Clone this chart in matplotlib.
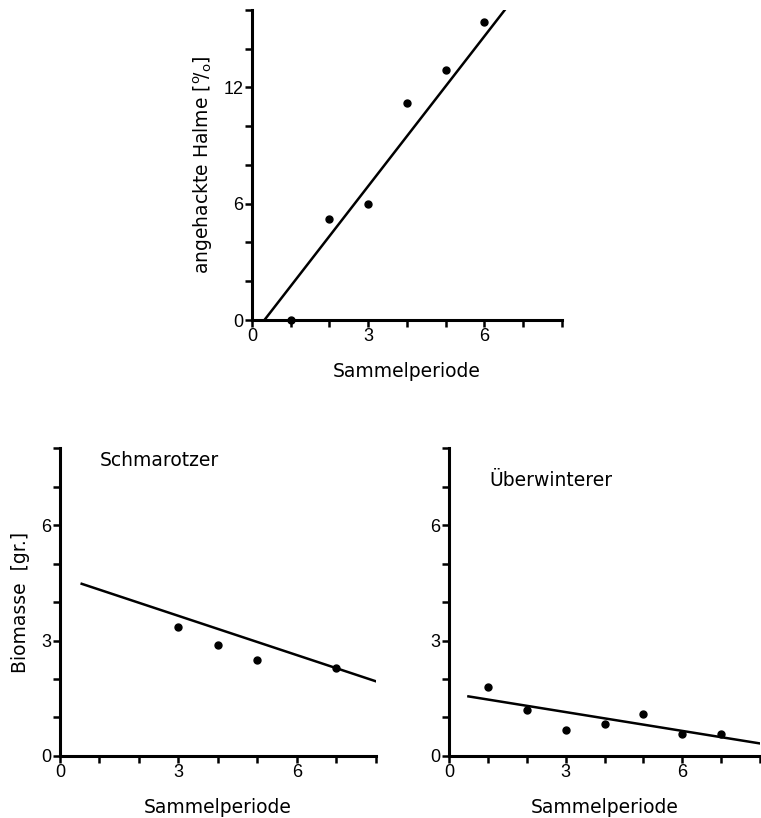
import matplotlib
matplotlib.use("Agg")
import matplotlib.pyplot as plt
import numpy as np

plt.rcParams['font.family'] = ['Liberation Sans', 'DejaVu Sans']
plt.rcParams['mathtext.fontset'] = 'custom'
plt.rcParams['mathtext.rm'] = 'DejaVu Sans'
plt.rcParams['mathtext.it'] = 'DejaVu Sans'

# Top panel: angehackte Halme [%]
top_x = [1, 2, 3, 4, 5, 6]
top_y = [0.0, 5.2, 6.0, 11.2, 12.9, 15.4]
top_fit = (2.58, -0.83)          # slope, intercept
top_fit_range = (0.32, 6.6)

# Bottom left: Schmarotzer
schm_x = [3, 4, 5, 7]
schm_y = [3.35, 2.88, 2.49, 2.29]
schm_fit = (-0.34, 4.66)
schm_fit_range = (0.55, 8.0)

# Bottom right: Überwinterer
ueb_x = [1, 2, 3, 4, 5, 6, 7]
ueb_y = [1.78, 1.19, 0.67, 0.84, 1.08, 0.57, 0.57]
ueb_fit = (-0.163, 1.63)
ueb_fit_range = (0.5, 8.0)

xticks_major = [0, 3, 6]

LBL = dict(family='DejaVu Sans', fontsize=13.5)

fig = plt.figure(figsize=(7.61, 8.18), dpi=100)

def style(ax, ymax, yminor_step, yticks_major, xlabel, ylabel=None, ylpad=6):
    ax.set_xlim(0, 8)
    ax.set_ylim(0, ymax)
    for s in ['top', 'right']:
        ax.spines[s].set_visible(False)
    for s in ['left', 'bottom']:
        ax.spines[s].set_linewidth(2.2)
    ax.set_xticks(np.arange(0, 9, 1), minor=True)
    ax.set_xticks(xticks_major)
    ax.set_yticks(np.arange(0, ymax + 0.01, yminor_step), minor=True)
    ax.set_yticks(yticks_major)
    ax.tick_params(which='both', direction='out', length=5, width=1.8, labelsize=13, pad=1)
    ax.set_xlabel(xlabel, labelpad=12, **LBL)
    if ylabel:
        ax.set_ylabel(ylabel, labelpad=ylpad, **LBL)

def fitline(ax, fit, rng):
    xs = np.linspace(rng[0], rng[1], 50)
    ax.plot(xs, fit[0] * xs + fit[1], color='black', lw=1.8, clip_on=True)

ax1 = fig.add_axes([0.3311, 0.6088, 0.4074, 0.379])
style(ax1, 16, 2, [0, 6, 12], 'Sammelperiode', r'angehackte Halme [$^\mathrm{o}\!/_\mathrm{o}$]', ylpad=6)
fitline(ax1, top_fit, top_fit_range)
ax1.plot(top_x, top_y, 'o', color='black', ms=5, clip_on=False)

ax2 = fig.add_axes([0.0788, 0.0758, 0.4152, 0.3765])
style(ax2, 8, 1, [0, 3, 6], 'Sammelperiode', 'Biomasse  [gr.]', ylpad=8)
fitline(ax2, schm_fit, schm_fit_range)
ax2.plot(schm_x, schm_y, 'o', color='black', ms=5)
ax2.text(1.0, 7.67, 'Schmarotzer', va='center', **LBL)

ax3 = fig.add_axes([0.59, 0.0758, 0.4087, 0.3765])
style(ax3, 8, 1, [0, 3, 6], 'Sammelperiode')
fitline(ax3, ueb_fit, ueb_fit_range)
ax3.plot(ueb_x, ueb_y, 'o', color='black', ms=5)
ax3.text(1.05, 7.15, 'Überwinterer', va='center', **LBL)

fig.savefig('out.png', dpi=100)
